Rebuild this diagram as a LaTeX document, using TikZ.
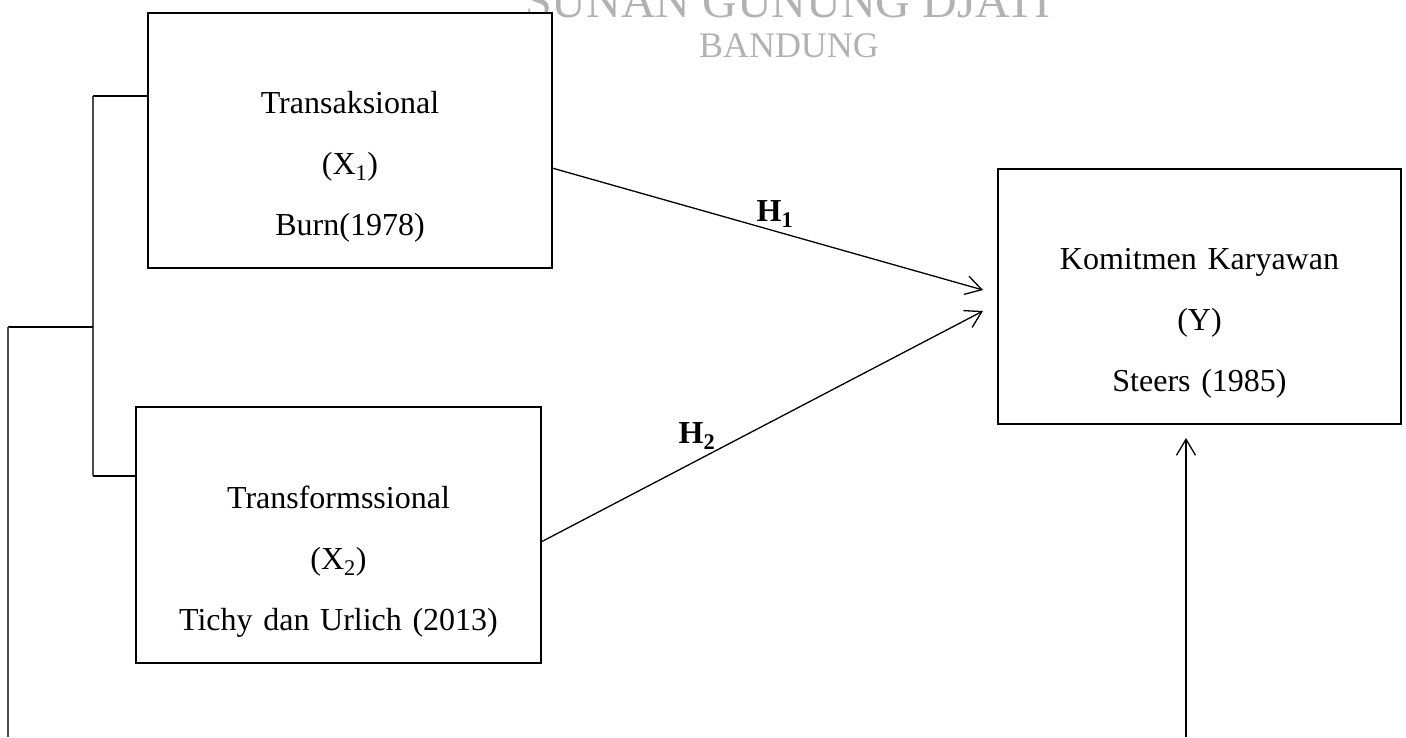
\documentclass[tikz,border=0pt]{standalone}
\usepackage{fontspec}
\setmainfont{Liberation Serif}
\usetikzlibrary{arrows.meta,calc}
\begin{document}
\begin{tikzpicture}[x=1pt,y=-1pt,
  box/.style={draw,fill=white,line width=2.8pt,inner sep=0pt,outer sep=0pt,minimum width=404pt,minimum height=255pt},
  boxtext/.style={anchor=base,align=center,text width=400pt,font=\fontsize{32}{61}\selectfont,inner sep=0pt},
  conn/.style={line width=1.3pt,-{Straight Barb[length=16pt,width=19pt,line width=1.3pt]}},
  hlabel/.style={anchor=base,font=\fontsize{32}{38}\selectfont\bfseries,inner sep=0pt},
  brk/.style={line width=1.5pt,black},
  brkv/.style={line width=2pt,black!70},
  wm/.style={text=black!30,inner sep=0pt}
]
\useasboundingbox (0,0) rectangle (1406,737);
% watermark
\node[wm,anchor=base west,font=\fontsize{48}{50}\selectfont] (wm1) at (525,17) {SUNAN GUNUNG DJATI};
\node[wm,anchor=base,font=\fontsize{36}{40}\selectfont] (wm2) at (789,57) {BANDUNG};
% boxes
\node[box] (b1) at (350,140.5) {};
\node[box,minimum width=405pt,minimum height=256pt] (b2) at (338.5,535) {};
\node[box,minimum width=403pt] (b3) at (1199.5,296.5) {};
\node[boxtext] (b1t) at (350,113) {Transaksional\\(X\textsubscript{1})\\Burn(1978)};
\node[boxtext] (b2t) at (338.5,508) {Transformssional\\(X\textsubscript{2})\\Tichy dan Urlich (2013)};
\node[boxtext] (b3t) at (1199.5,269) {Komitmen Karyawan\\(Y)\\Steers (1985)};
% coordinates
\coordinate (h1s) at ($(b1.east)+(0,27.5)$);
\coordinate (h1e) at ($(b3.west)+(-15,-6.5)$);
\coordinate (h2s) at ($(b2.east)+(0,7)$);
\coordinate (h2e) at ($(b3.west)+(-15,14.5)$);
\coordinate (vs) at (1186,737);
\coordinate (ve) at ($(b3.south)+(-13.5,14)$);
\coordinate (kt) at (93,96);
\coordinate (km) at (93,327);
\coordinate (kb) at (93,476);
\coordinate (lm) at (8,327);
\coordinate (lb) at (8,737);
% connectors
\draw[conn] (h1s) -- (h1e);
\draw[conn] (h2s) -- (h2e);
\draw[conn] (vs) -- (ve);
\node[hlabel] (H1) at (775,221) {H\textsubscript{1}};
\node[hlabel] (H2) at (697,443) {H\textsubscript{2}};
% bracket
\draw[brkv] (kt) -- (kb);
\draw[brk] (kt) -- (b1.west |- kt);
\draw[brk] (kb) -- (b2.west |- kb);
\draw[brk] (lm) -- (km);
\draw[brkv] (lm) -- (lb);
\end{tikzpicture}
\end{document}
